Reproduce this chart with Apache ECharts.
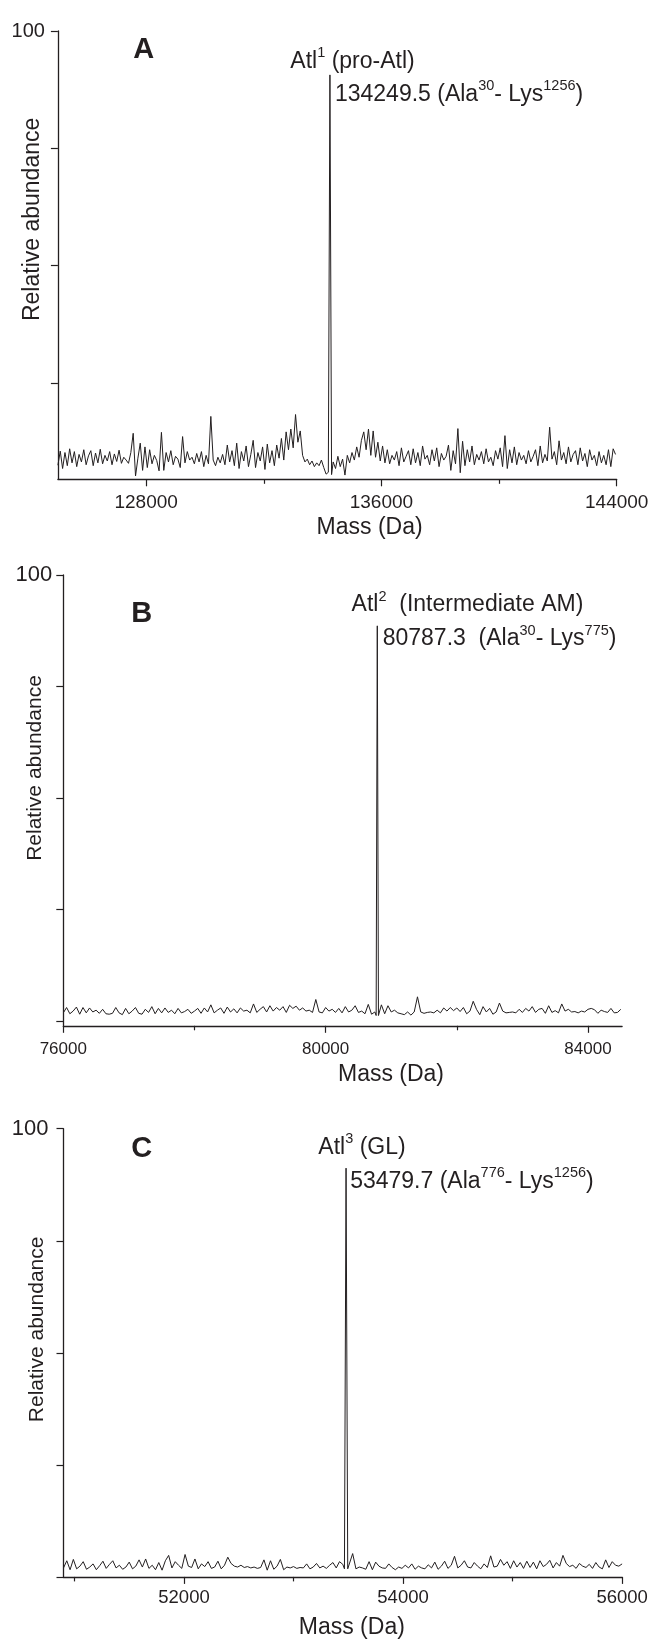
<!DOCTYPE html>
<html>
<head>
<meta charset="utf-8">
<script src="https://cdn.jsdelivr.net/npm/echarts@6/dist/echarts.min.js"></script>
<style>
  html, body { margin: 0; padding: 0; background: #ffffff; }
  #chart { width: 649px; height: 1639px; }
</style>
</head>
<body>
<div id="chart"></div>
<script>
// ---------- Panel A: Atl1 (pro-Atl) ----------
const massStartA = 125000;
const massStepA = 80;
const abundanceA = [
  7.5, 10.5, 6.8, 10.2, 7.4, 11.0, 8.0, 10.4, 7.2, 9.8,
  8.2, 10.8, 7.6, 9.5, 10.6, 7.4, 10.1, 8.0, 10.9, 7.8,
  9.6, 8.4, 10.4, 7.6, 9.9, 8.3, 10.7, 7.9, 9.2, 8.6,
  7.9, 10.2, 14.3, 5.2, 9.0, 12.2, 6.4, 11.4, 7.0, 10.8,
  7.8, 9.6, 8.5, 6.3, 14.5, 6.4, 10.2, 8.2, 10.6, 7.6,
  9.4, 8.8, 7.0, 13.6, 8.0, 10.4, 8.6, 9.2, 7.8, 10.0,
  8.2, 10.4, 7.2, 9.6, 7.8, 17.9, 8.6, 7.4, 9.2, 8.0,
  9.8, 7.6, 11.8, 8.2, 10.6, 7.4, 12.2, 6.8, 10.4, 8.4,
  11.6, 7.2, 9.8, 12.8, 7.0, 10.2, 8.4, 11.4, 6.6, 12.0,
  8.0, 10.6, 7.4, 11.8, 9.0, 13.2, 8.6, 14.6, 10.8, 15.2,
  11.2, 18.3, 12.4, 14.8, 9.6, 8.2, 8.8, 7.6, 8.4, 7.2,
  8.0, 7.4, 8.6, 7.0, 5.6, 6.2, 6.0, 8.2, 6.8, 9.4,
  7.2, 8.8, 5.4, 9.6, 8.0, 10.2, 8.6, 11.4, 9.2, 12.8,
  14.6, 10.8, 15.2, 9.6, 14.8, 9.2, 12.4, 8.4, 11.6, 8.0,
  10.8, 7.8, 9.6, 8.6, 10.4, 7.4, 11.2, 8.2, 9.4, 10.6,
  7.6, 11.0, 8.0, 10.2, 7.4, 11.6, 8.8, 9.6, 7.6, 10.8,
  8.4, 11.2, 7.2, 10.0, 8.6, 9.4, 11.8, 6.4, 10.6, 7.8,
  15.3, 5.9, 12.6, 7.4, 10.8, 8.2, 11.6, 7.6, 9.8, 8.6,
  10.4, 7.8, 11.0, 8.2, 9.2, 7.4, 10.6, 8.8, 11.2, 7.2,
  13.8, 6.8, 10.8, 8.0, 11.4, 7.6, 10.2, 8.6, 9.6, 7.8,
  10.6, 8.2, 9.4, 10.8, 7.4, 11.6, 8.0, 9.8, 8.4, 15.6,
  8.8, 10.4, 7.6, 12.7, 8.6, 10.2, 7.8, 11.4, 8.2, 9.8,
  10.6, 7.6, 11.2, 8.4, 10.0, 7.2, 10.8, 8.6, 9.6, 7.4,
  10.4, 8.0, 9.6, 7.6, 10.8, 7.2, 11.0, 9.8
];
const peakMassA = [134195, 134249.5, 134305];
const peakAbundA = [6.0, 90.65, 5.5];
const massRangeA = [125000, 144000];
const abundRangeA = [4.5, 100];
const massTicksA = [128000, 136000, 144000];
const massMinorTicksA = [132000, 140000];
const massLabelsA = [128000, 136000, 144000];
const abundTicksA = [25, 50, 75, 100];

// ---------- Panel B: Atl2 (intermediate AM) ----------
const massStartB = 76000;
const massStepB = 50;
const abundanceB = [
  1.8, 3.0, 1.6, 2.2, 3.1, 1.5, 3.0, 1.8, 2.9, 2.0,
  2.4, 1.7, 2.6, 1.6, 1.5, 1.7, 3.0, 1.8, 1.4, 2.8,
  1.6, 2.2, 3.0, 1.7, 1.5, 2.6, 1.9, 3.2, 1.6, 2.8,
  1.8, 2.9, 1.9, 2.4, 1.6, 2.8, 1.8, 2.1, 2.6, 1.7,
  2.2, 2.8, 1.7, 2.9, 2.0, 3.6, 1.8, 2.4, 2.9, 1.7,
  3.1, 2.0, 2.7, 1.8, 2.9, 2.2, 2.4, 1.8, 3.8, 1.9,
  2.6, 3.2, 2.0, 3.4, 2.2, 3.0, 2.4, 3.2, 1.9, 3.5,
  2.8, 3.3, 2.4, 2.9, 2.2, 2.4, 1.9, 4.8, 2.0, 1.8,
  3.0, 2.2, 2.6, 1.9, 2.8, 1.8, 3.2, 2.0, 2.4, 3.4,
  1.9, 2.2, 1.6, 3.7, 1.5, 2.0, 2.0, 3.6, 1.6, 3.4,
  2.0, 2.4, 1.8, 1.6, 1.4, 2.0, 1.3, 2.0, 5.4, 2.0,
  1.7, 1.9, 2.0, 1.8, 2.4, 1.8, 2.9, 2.2, 3.0, 2.3,
  2.9, 2.1, 3.0, 1.6, 2.2, 4.4, 2.6, 1.4, 3.2, 2.0,
  2.8, 1.5, 2.0, 4.0, 2.2, 1.8, 1.9, 2.0, 1.8, 2.6,
  1.9, 2.8, 2.2, 3.2, 1.9, 2.6, 2.8, 1.7, 3.4, 1.9,
  2.3, 1.8, 3.8, 2.2, 2.6, 2.0, 2.1, 1.8, 2.2, 2.0,
  2.6, 2.8, 2.5, 1.7, 2.4, 2.1, 1.9, 2.8, 1.8, 1.9, 2.6
];
const peakMassB = [80770, 80787.3, 80805];
const peakAbundB = [1.2, 88.6, 1.2];
const massRangeB = [76000, 84520];
const abundRangeB = [-1.1, 100];
const massTicksB = [76000, 80000, 84000];
const massMinorTicksB = [78000, 82000];
const massLabelsB = [76000, 80000, 84000];
const abundTicksB = [0, 25, 50, 75, 100];

// ---------- Panel C: Atl3 (GL) ----------
const massStartC = 50900;
const massStepC = 30;
const abundanceC = [
  2.0, 3.6, 1.6, 3.9, 1.8, 2.4, 3.4, 1.7, 2.2, 2.9,
  1.6, 2.5, 3.5, 1.9, 2.8, 3.6, 2.0, 2.6, 1.7, 2.2,
  3.3, 1.8, 2.4, 3.8, 2.2, 4.0, 1.9, 2.6, 1.6, 3.2,
  1.5, 3.6, 4.8, 2.0, 3.4, 2.6, 1.9, 5.0, 2.4, 2.1,
  4.0, 1.8, 2.9, 2.3, 3.4, 1.9, 2.2, 3.5, 1.8, 2.6,
  4.4, 3.0, 2.4, 2.2, 2.6, 2.1, 2.3, 2.0, 2.2, 1.9,
  2.1, 3.8, 1.5, 3.6, 1.7, 2.4, 3.9, 1.6, 2.2, 2.0,
  2.3, 1.9, 2.1, 2.0, 2.9, 1.8, 2.2, 3.0, 2.0, 2.4,
  1.9, 2.6, 3.2, 2.0, 3.4, 2.8, 2.5, 2.0, 5.2, 1.8,
  2.2, 2.0, 1.7, 3.4, 1.6, 3.3, 2.4, 2.0, 1.9, 2.9,
  2.1, 1.6, 2.2, 1.9, 2.6, 2.0, 2.9, 1.7, 2.4, 2.0,
  1.8, 2.7, 2.0, 3.3, 1.7, 2.4, 3.5, 1.9, 2.6, 4.6,
  2.0, 2.6, 3.6, 2.2, 2.0, 3.2, 2.4, 1.8, 2.9, 2.1,
  4.7, 2.2, 2.4, 3.9, 2.6, 3.4, 1.9, 3.6, 2.2, 3.2,
  1.9, 3.5, 2.1, 3.3, 1.8, 3.6, 2.3, 2.8, 3.7, 2.0,
  3.2, 2.4, 4.8, 3.0, 2.3, 2.6, 1.9, 3.0, 2.4, 2.1,
  2.8, 1.9, 3.2, 2.2, 1.8, 3.8, 2.1, 3.4, 2.6, 2.4, 2.9
];
const peakMassC = [53465, 53479.7, 53495];
const peakAbundC = [1.8, 91.2, 1.8];
const massRangeC = [50900, 56000];
const abundRangeC = [0, 100];
const massTicksC = [52000, 54000, 56000];
const massMinorTicksC = [51000, 53000, 55000];
const massLabelsC = [52000, 54000, 56000];
const abundTicksC = [0, 25, 50, 75, 100];

const abundLabels = [100];
const panelLetters = ['A', 'B', 'C'];
const speciesLines = [
  '{n|Atl}{s|1}{n| (pro-Atl)}',
  '{n|Atl}{s|2}{n|  (Intermediate AM)}',
  '{n|Atl}{s|3}{n| (GL)}'
];
const massLines = [
  '{n|134249.5 (Ala}{s|30}{n|- Lys}{s|1256}{n|)}',
  '{n|80787.3  (Ala}{s|30}{n|- Lys}{s|775}{n|)}',
  '{n|53479.7 (Ala}{s|776}{n|- Lys}{s|1256}{n|)}'
];
const yTitle = 'Relative abundance';
const xTitle = 'Mass (Da)';

// ---------- drawing ----------
const FONT = "'Liberation Sans', Arial, Helvetica, sans-serif";
const INK = '#231f20';

// noise grid with the apex profile spliced in
function spectrum(start, step, values, pMass, pAbund) {
  const lo = pMass[0], hi = pMass[pMass.length - 1];
  const pts = [];
  values.forEach((v, i) => {
    const m = start + i * step;
    if (m < lo || m > hi) pts.push([m, v]);
  });
  pMass.forEach((m, i) => pts.push([m, pAbund[i]]));
  pts.sort((a, b) => a[0] - b[0]);
  return pts;
}

const panels = [
  {
    grid: { left: 57.9, right: 32.3, top: 31, height: 448.3 },
    data: spectrum(massStartA, massStepA, abundanceA, peakMassA, peakAbundA),
    apex: [peakMassA[1], peakAbundA[1]],
    mRange: massRangeA, aRange: abundRangeA,
    mTicks: massTicksA, mMinor: massMinorTicksA, mLabels: massLabelsA, aTicks: abundTicksA,
    xFont: 19, xMargin: 14, yFont: 20, yMargin: 13,
    letter: [143.6, 49.7], yTitlePos: [32.3, 219.4], yTitleSize: 23,
    xTitlePos: [369.6, 528],
    l1: [-39.6, -13.7], l2: [5, 20]
  },
  {
    grid: { left: 63.3, right: 26.9, top: 575, height: 450.8 },
    data: spectrum(massStartB, massStepB, abundanceB, peakMassB, peakAbundB),
    apex: [peakMassB[1], peakAbundB[1]],
    mRange: massRangeB, aRange: abundRangeB,
    mTicks: massTicksB, mMinor: massMinorTicksB, mLabels: massLabelsB, aTicks: abundTicksB,
    xFont: 17, xMargin: 15, yFont: 22, yMargin: 11,
    letter: [141.6, 614.4], yTitlePos: [35.2, 768], yTitleSize: 21,
    xTitlePos: [391, 1075],
    l1: [-25.7, -20.7], l2: [5.4, 13.3]
  },
  {
    grid: { left: 63.5, right: 26.9, top: 1128.7, height: 448.2 },
    data: spectrum(massStartC, massStepC, abundanceC, peakMassC, peakAbundC),
    apex: [peakMassC[1], peakAbundC[1]],
    mRange: massRangeC, aRange: abundRangeC,
    mTicks: massTicksC, mMinor: massMinorTicksC, mLabels: massLabelsC, aTicks: abundTicksC,
    xFont: 18.5, xMargin: 12, yFont: 22, yMargin: 15,
    letter: [141.6, 1149.4], yTitlePos: [37.3, 1329.4], yTitleSize: 21,
    xTitlePos: [351.8, 1627.4],
    l1: [-27.7, -20.7], l2: [4.1, 13.2]
  }
];

const chart = echarts.init(document.getElementById('chart'), null, { renderer: 'canvas' });

const axisLine = { show: true, onZero: false, lineStyle: { color: INK, width: 1.3 } };
const tickLine = { color: INK, width: 1.2 };

// main mass axes (one per grid), then minor-tick mass axes sharing the same grids
const mainX = panels.map((p, i) => ({
  type: 'value',
  gridIndex: i,
  min: p.mRange[0],
  max: p.mRange[1],
  splitLine: { show: false },
  axisLine: axisLine,
  axisTick: { show: true, length: 7, customValues: p.mTicks, lineStyle: tickLine },
  axisLabel: {
    show: true, customValues: p.mLabels, margin: p.xMargin,
    fontSize: p.xFont, fontFamily: FONT, color: INK,
    formatter: v => String(v)
  }
}));
const minorX = panels.map((p, i) => ({
  type: 'value',
  gridIndex: i,
  position: 'bottom',
  min: p.mRange[0],
  max: p.mRange[1],
  splitLine: { show: false },
  axisLine: { show: false, onZero: false },
  axisTick: { show: true, length: 4.5, customValues: p.mMinor, lineStyle: tickLine },
  axisLabel: { show: false }
}));

chart.setOption({
  animation: false,
  backgroundColor: '#ffffff',
  grid: panels.map(p => Object.assign({ containLabel: false, outerBoundsMode: 'none' }, p.grid)),
  xAxis: mainX.concat(minorX),
  yAxis: panels.map((p, i) => ({
    type: 'value',
    gridIndex: i,
    min: p.aRange[0],
    max: p.aRange[1],
    splitLine: { show: false },
    axisLine: axisLine,
    axisTick: { show: true, length: 7, customValues: p.aTicks, lineStyle: tickLine },
    axisLabel: {
      show: true, customValues: abundLabels, margin: p.yMargin,
      fontSize: p.yFont, fontFamily: FONT, color: INK,
      formatter: v => String(v)
    }
  })),
  series: panels.map((p, i) => ({
    type: 'line',
    xAxisIndex: i,
    yAxisIndex: i,
    data: p.data,
    symbol: 'none',
    showSymbol: false,
    sampling: false,
    clip: true,
    lineStyle: { color: INK, width: 1 },
    silent: true
  }))
});

const rich = {
  n: { fontSize: 23, fontFamily: FONT, fill: INK, lineHeight: 32 },
  s: { fontSize: 14.5, fontFamily: FONT, fill: INK, lineHeight: 13, verticalAlign: 'top' }
};

const graphics = [];
panels.forEach((p, i) => {
  const apex = chart.convertToPixel({ gridIndex: i }, p.apex);
  graphics.push({
    type: 'text', x: apex[0] + p.l1[0], y: apex[1] + p.l1[1], silent: true,
    style: { text: speciesLines[i], rich: rich, align: 'left', verticalAlign: 'middle' }
  });
  graphics.push({
    type: 'text', x: apex[0] + p.l2[0], y: apex[1] + p.l2[1], silent: true,
    style: { text: massLines[i], rich: rich, align: 'left', verticalAlign: 'middle' }
  });
  graphics.push({
    type: 'text', x: p.letter[0], y: p.letter[1], silent: true,
    style: { text: panelLetters[i], fontSize: 29, fontWeight: 'bold', fontFamily: FONT,
             fill: INK, align: 'center', verticalAlign: 'middle' }
  });
  graphics.push({
    type: 'text', x: p.yTitlePos[0], y: p.yTitlePos[1], rotation: Math.PI / 2, silent: true,
    style: { text: yTitle, fontSize: p.yTitleSize, fontFamily: FONT, fill: INK,
             align: 'center', verticalAlign: 'middle' }
  });
  graphics.push({
    type: 'text', x: p.xTitlePos[0], y: p.xTitlePos[1], silent: true,
    style: { text: xTitle, fontSize: 23, fontFamily: FONT, fill: INK,
             align: 'center', verticalAlign: 'middle' }
  });
});

chart.setOption({ graphic: graphics });
</script>
</body>
</html>
